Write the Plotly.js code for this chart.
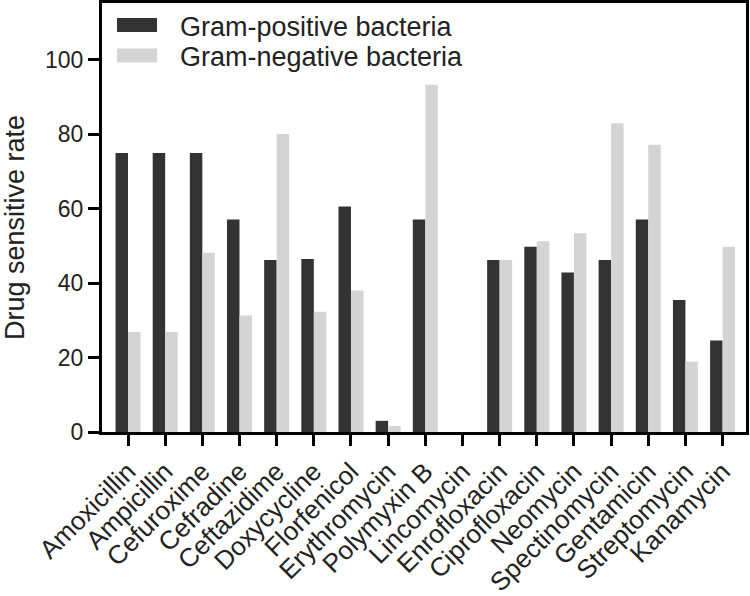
<!DOCTYPE html>
<html>
<head>
<meta charset="utf-8">
<script src="https://cdn.plot.ly/plotly-3.0.1.min.js"></script>
<style>html,body{margin:0;padding:0;background:#fff;}#chart{width:750px;height:596px;}</style>
</head>
<body>
<div id="chart"></div>
<script>
const drugs = ["Amoxicillin","Ampicillin","Cefuroxime","Cefradine","Ceftazidime","Doxycycline","Florfenicol","Erythromycin","Polymyxin B","Lincomycin","Enrofloxacin","Ciprofloxacin","Neomycin","Spectinomycin","Gentamicin","Streptomycin","Kanamycin"];
const gramPositive = [75, 75, 75, 57.1, 46.2, 46.5, 60.6, 3.0, 57.1, 0, 46.2, 49.8, 42.9, 46.2, 57.1, 35.5, 24.6];
const gramNegative = [26.9, 26.9, 48.2, 31.3, 80.1, 32.3, 38.0, 1.6, 93.3, 0, 46.2, 51.3, 53.4, 83.0, 77.2, 18.9, 49.8];
const seriesNames = ["Gram-positive bacteria", "Gram-negative bacteria"];
const yTicks = [0, 20, 40, 60, 80, 100];

const font = "Liberation Sans, Arial, Helvetica, sans-serif";
const traces = [
  {type: "bar", x: drugs, y: gramPositive, name: seriesNames[0], marker: {color: "#333333", line: {width: 0}}},
  {type: "bar", x: drugs, y: gramNegative, name: seriesNames[1], marker: {color: "#d4d4d4", line: {width: 0}}}
];
const layout = {
  width: 750, height: 596,
  margin: {l: 102, r: 4, t: 3, b: 164},
  paper_bgcolor: "#fff", plot_bgcolor: "#fff",
  barmode: "group", bargap: 0.328, bargroupgap: 0,
  font: {family: font, color: "#222", size: 21},
  showlegend: true,
  legend: {x: 0.005, y: 0.995, xanchor: "left", yanchor: "top", bgcolor: "rgba(0,0,0,0)",
           font: {family: font, size: 27, color: "#222"}, itemwidth: 76, tracegroupgap: 0},
  xaxis: {type: "category", range: [-0.7, 16.63], showline: true, mirror: true, linecolor: "#000", linewidth: 3,
          ticks: "outside", ticklen: 11, tickwidth: 3, tickcolor: "#000", tickangle: -45,
          tickfont: {family: font, size: 26, color: "#222"}, showgrid: false, zeroline: false, fixedrange: true},
  yaxis: {range: [0, 115.3], tickvals: yTicks, ticktext: yTicks.map(String), showline: true, mirror: true,
          linecolor: "#000", linewidth: 3, ticks: "outside", ticklen: 11, tickwidth: 3, tickcolor: "#000",
          tickfont: {family: font, size: 23, color: "#222"}, showgrid: false, zeroline: false,
          title: {text: "Drug sensitive rate", font: {family: font, size: 27, color: "#222"}, standoff: 8}}
};
Plotly.newPlot("chart", traces, layout, {staticPlot: true, displayModeBar: false}).then(function(gd){
  const targets = [[137, 25], [137, 55.5]];
  const svgRect = gd.querySelector(".main-svg").getBoundingClientRect();
  gd.querySelectorAll(".legend .traces").forEach(function(item, i){
    const p = item.querySelector(".legendpoints path");
    if (!p || !targets[i]) return;
    p.setAttribute("d", "M20,7H-20V-7H20Z");
    const r = p.getBoundingClientRect();
    const dx = targets[i][0] - (r.left - svgRect.left + r.width / 2);
    const dy = targets[i][1] - (r.top - svgRect.top + r.height / 2);
    item.setAttribute("transform", (item.getAttribute("transform") || "") + " translate(" + dx + "," + dy + ")");
  });
  const yt = gd.querySelector(".ytitle");
  if (yt) yt.setAttribute("transform", "translate(-5,10) " + (yt.getAttribute("transform") || ""));
});
</script>
</body>
</html>
